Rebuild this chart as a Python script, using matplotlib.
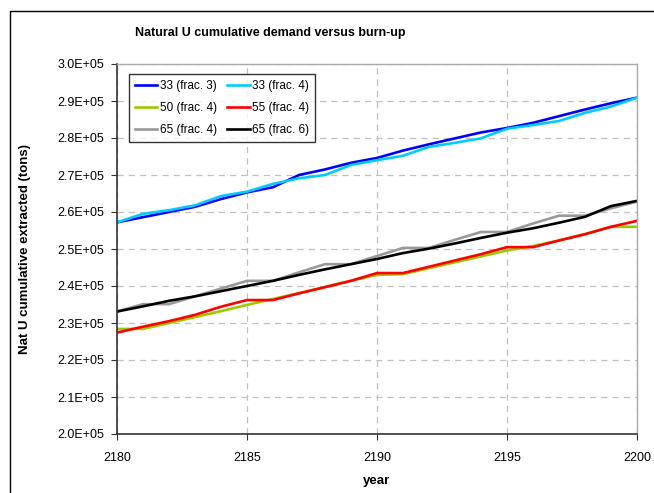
import numpy
import matplotlib

matplotlib.use("Agg")
import matplotlib.pyplot as plt
from matplotlib.patches import Rectangle
from matplotlib.ticker import FuncFormatter

plt.rcParams['font.family'] = ['Liberation Sans', 'DejaVu Sans']

years = numpy.arange(2180, 2201)

# values in units of 1e5 tons
u33_f3 = [2.572, 2.586, 2.600, 2.614, 2.635, 2.653, 2.667, 2.700, 2.715, 2.733, 2.746,
          2.766, 2.783, 2.799, 2.815, 2.827, 2.841, 2.859, 2.877, 2.894, 2.909]
u33_f4 = [2.572, 2.595, 2.605, 2.618, 2.643, 2.655, 2.676, 2.691, 2.700, 2.727, 2.740,
          2.752, 2.776, 2.787, 2.799, 2.825, 2.835, 2.846, 2.868, 2.885, 2.909]
u50_f4 = [2.284, 2.284, 2.300, 2.316, 2.332, 2.349, 2.365, 2.381, 2.397, 2.414, 2.430,
          2.432, 2.448, 2.464, 2.480, 2.496, 2.508, 2.523, 2.540, 2.560, 2.560]
u55_f4 = [2.274, 2.290, 2.305, 2.322, 2.344, 2.362, 2.362, 2.380, 2.397, 2.414, 2.435,
          2.435, 2.452, 2.469, 2.486, 2.505, 2.505, 2.523, 2.540, 2.560, 2.576]
u65_f4 = [2.331, 2.351, 2.351, 2.372, 2.393, 2.414, 2.414, 2.437, 2.459, 2.459, 2.481,
          2.503, 2.503, 2.525, 2.546, 2.546, 2.569, 2.590, 2.590, 2.610, 2.628]
u65_f6 = [2.331, 2.345, 2.360, 2.372, 2.386, 2.400, 2.414, 2.430, 2.445, 2.459, 2.473,
          2.489, 2.501, 2.515, 2.530, 2.544, 2.556, 2.571, 2.587, 2.616, 2.630]

series = [
    ("33 (frac. 3)", u33_f3, "#0000ff"),
    ("33 (frac. 4)", u33_f4, "#00ccff"),
    ("50 (frac. 4)", u50_f4, "#99cc00"),
    ("55 (frac. 4)", u55_f4, "#ff0000"),
    ("65 (frac. 4)", u65_f4, "#999999"),
    ("65 (frac. 6)", u65_f6, "#000000"),
]

fig = plt.figure(figsize=(6.54, 4.93), dpi=100)
ax = fig.add_axes([117 / 654, 1 - 434 / 493, 520 / 654, 370 / 493])

lines = {}
for label, vals, color in series:
    ln, = ax.plot(years, numpy.array(vals) * 1e5, color=color, lw=1.9, label=label)
    lines[label] = ln

ax.set_xlim(2180, 2200)
ax.set_ylim(2.0e5, 3.0e5)
ax.set_xticks(numpy.arange(2180, 2201, 5))
ax.set_yticks(numpy.arange(2.0e5, 3.01e5, 0.1e5))
ax.yaxis.set_major_formatter(FuncFormatter(lambda v, p: "%.1fE+05" % (v / 1e5)))
ax.tick_params(labelsize=9, length=4, direction='out', color='#333333')
ax.tick_params(axis='x', pad=9)
ax.tick_params(axis='y', pad=5)
ax.grid(True, color='#c0c0c0', linestyle=(0, (5, 4)), lw=0.9)

for s in ['left', 'bottom']:
    ax.spines[s].set_color('#333333')
    ax.spines[s].set_linewidth(1.2)
for s in ['top', 'right']:
    ax.spines[s].set_color('#aaaaaa')
    ax.spines[s].set_linewidth(1.0)

fig.text(270 / 654, 1 - 33 / 493, "Natural U cumulative demand versus burn-up",
         fontsize=9, fontweight='bold', ha='center', va='center')
ax.set_xlabel("year", fontsize=9.5, fontweight='bold', labelpad=8)
ax.set_ylabel("Nat U cumulative extracted (tons)", fontsize=9.5, fontweight='bold',
              labelpad=19)

order = ["33 (frac. 3)", "50 (frac. 4)", "65 (frac. 4)",
         "33 (frac. 4)", "55 (frac. 4)", "65 (frac. 6)"]
leg = ax.legend([lines[k] for k in order], order, ncol=2, loc='upper left',
                bbox_to_anchor=(12 / 520, 1 - 10 / 370), fontsize=8.5, frameon=True,
                fancybox=False, edgecolor='black', handlelength=1.9,
                handletextpad=0.2, columnspacing=0.9, borderpad=0.5,
                labelspacing=0.85, borderaxespad=0)
leg.get_frame().set_linewidth(1.0)

fig.patches.append(Rectangle((10 / 654, -0.1), 1.2, 1 - 11 / 493 + 0.1,
                             transform=fig.transFigure, fill=False,
                             edgecolor='black', lw=1.0))

fig.savefig("out.png", dpi=100)
